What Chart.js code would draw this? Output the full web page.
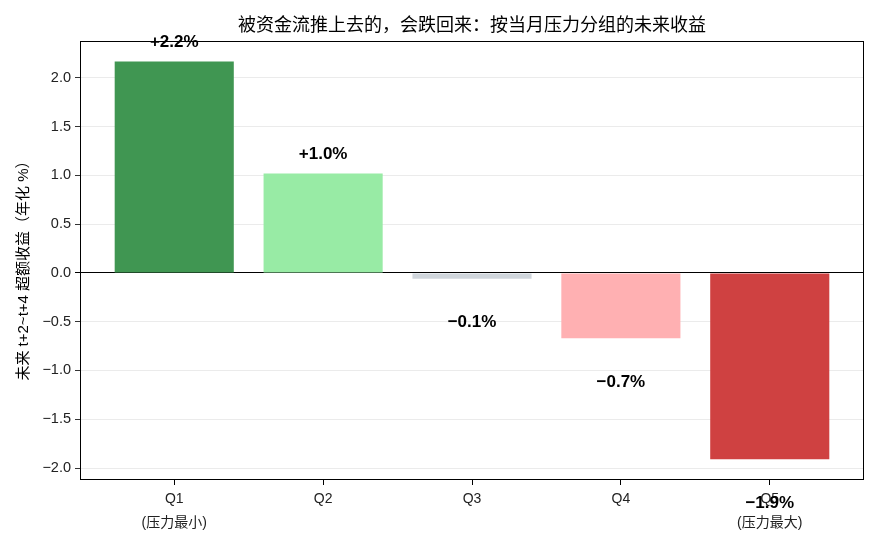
<!DOCTYPE html>
<html lang="zh">
<head>
    <meta charset="UTF-8">
    <title>按当月压力分组的未来收益</title>
    <script src="https://cdn.jsdelivr.net/npm/chart.js"></script>
    <style>
        body { margin: 0; padding: 0; background: #fff; }
        #wrap { width: 880px; height: 550px; }
    </style>
</head>
<body>
<div id="wrap"><canvas id="pressureChart" width="880" height="550"></canvas></div>
<script>
    // data
    const groups = ['Q1', 'Q2', 'Q3', 'Q4', 'Q5'];
    const groupNotes = ['(压力最小)', '', '', '', '(压力最大)'];
    const excessReturn = [2.17, 1.02, -0.06, -0.67, -1.91];
    const barColors = ['#409652', '#98eba5', '#d0d6dc', '#ffb0b2', '#cf4141'];
    const yTicks = [-2.0, -1.5, -1.0, -0.5, 0.0, 0.5, 1.0, 1.5, 2.0];

    const FONT = '"Liberation Sans", "Noto Sans CJK SC", sans-serif';
    const fmtNum = v => (v < 0 ? '\u2212' : '') + Math.abs(v).toFixed(1);
    const fmtPct = v => (v < 0 ? '\u2212' : '+') + Math.abs(v).toFixed(1) + '%';

    // title, axis label, frame, value labels
    const decorations = {
        id: 'decorations',
        afterDraw(chart) {
            const { ctx, chartArea: a, scales } = chart;
            ctx.save();
            ctx.strokeStyle = '#000';
            ctx.lineWidth = 1;
            ctx.strokeRect(a.left + 0.5, a.top + 0.5, a.right - a.left - 1, a.bottom - a.top - 1);

            ctx.fillStyle = '#000';
            ctx.font = '18px ' + FONT;
            ctx.textAlign = 'center';
            ctx.textBaseline = 'middle';
            ctx.fillText('被资金流推上去的，会跌回来：按当月压力分组的未来收益', (a.left + a.right) / 2, 26);

            ctx.save();
            ctx.translate(24, 267);
            ctx.rotate(-Math.PI / 2);
            ctx.font = '15px ' + FONT;
            ctx.fillText('未来 t+2~t+4 超额收益（年化 %）', 0, 0);
            ctx.restore();

            ctx.font = 'bold 17px ' + FONT;
            excessReturn.forEach((v, i) => {
                const x = scales.x.getPixelForValue(i);
                const y = scales.y.getPixelForValue(v >= 0 ? v + 0.2 : v - 0.45);
                ctx.fillText(fmtPct(v), x, y);
            });
            ctx.restore();
        }
    };

    new Chart(document.getElementById('pressureChart'), {
        type: 'bar',
        data: {
            datasets: [{
                data: excessReturn.map((v, i) => ({ x: i, y: v })),
                backgroundColor: barColors,
                barPercentage: 0.8,
                categoryPercentage: 1.0
            }]
        },
        options: {
            responsive: false,
            animation: false,
            layout: { padding: { top: 41, right: 16, left: 0, bottom: 0 } },
            plugins: {
                legend: { display: false },
                tooltip: { enabled: false }
            },
            scales: {
                x: {
                    type: 'linear',
                    offset: false,
                    min: -0.633,
                    max: 4.633,
                    afterBuildTicks: s => { s.ticks = groups.map((g, i) => ({ value: i })); },
                    afterFit: s => { s.height = 70; },
                    grid: { offset: false, drawOnChartArea: false, tickLength: 5, tickColor: '#000' },
                    border: { display: false },
                    ticks: {
                        color: '#222',
                        padding: 2,
                        maxRotation: 0,
                        font: { family: FONT, size: 14, lineHeight: 1.7 },
                        callback: v => groupNotes[v] ? [groups[v], groupNotes[v]] : groups[v]
                    }
                },
                y: {
                    min: -2.123,
                    max: 2.379,
                    afterBuildTicks: s => { s.ticks = yTicks.map(v => ({ value: v })); },
                    afterFit: s => { s.width = 80; },
                    grid: {
                        color: c => c.tick && c.tick.value === 0 ? '#000' : '#e6e6e6',
                        lineWidth: c => c.tick && c.tick.value === 0 ? 1 : 0.8,
                        tickLength: 5,
                        tickColor: '#000'
                    },
                    border: { display: false },
                    ticks: {
                        color: '#222',
                        padding: 4,
                        font: { family: FONT, size: 14.5 },
                        callback: v => fmtNum(v)
                    }
                }
            }
        },
        plugins: [decorations]
    });
</script>
</body>
</html>
